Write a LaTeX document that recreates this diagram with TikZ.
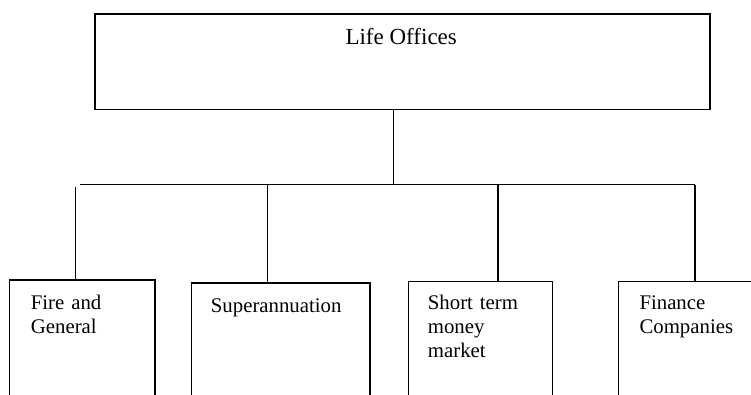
\documentclass[tikz,border=0pt]{standalone}
\usepackage{fontspec}
\setmainfont{Liberation Serif}
\begin{document}
\begin{tikzpicture}[x=1pt,y=-1pt,
  ln/.style={line width=1.2pt,black},
  boxs/.style={draw,line width=1.2pt,anchor=north west,inner sep=0pt,minimum width=#1},
  lbl/.style={anchor=base west,inner sep=0pt,align=left,font=\fontsize{20.8}{24}\selectfont},
]
\useasboundingbox (0,0) rectangle (751,394);
% top box
\node[boxs=615pt,minimum height=95.7pt] (top) at (94.3,13.3) {};
\node[anchor=base,inner sep=0pt,font=\fontsize{23}{27}\selectfont] (toptxt) at (401.2,44.3) {Life Offices};
% bottom boxes
\node[boxs=145.3pt,minimum height=121pt] (b1) at (9,279.3) {};
\node[boxs=178.6pt,minimum height=118pt] (b2) at (190.7,282.3) {};
\node[boxs=144pt,minimum height=120pt] (b3) at (407.7,280.7) {};
\node[boxs=145pt,minimum height=120pt] (b4) at (617.7,281) {};
\node[lbl,text width=120pt] (t1) at (30.7,309.3) {Fire and\\General};
\node[lbl,text width=150pt] (t2) at (210.7,312) {Superannuation};
\node[lbl,text width=120pt] (t3) at (427.7,309.3) {Short term\\money\\market};
\node[lbl,text width=120pt] (t4) at (639.3,309.3) {Finance\\Companies};
% connectors
\coordinate (j) at (393.3,184.7);
\coordinate (hl) at (80,184.7);
\coordinate (hr) at (695,184.7);
\coordinate (d1) at (75.3,186.7);
\coordinate (d2) at (267.7,184.7);
\coordinate (d3) at (498,184.7);
\draw[ln] (top.south -| j) -- (j);
\draw[ln] (hl) -- (hr);
\draw[ln] (d1) -- (d1 |- b1.north);
\draw[ln] (d2) -- (d2 |- b2.north);
\draw[ln] (d3) -- (d3 |- b3.north);
\draw[ln] (hr) -- (hr |- b4.north);
\end{tikzpicture}
\end{document}
